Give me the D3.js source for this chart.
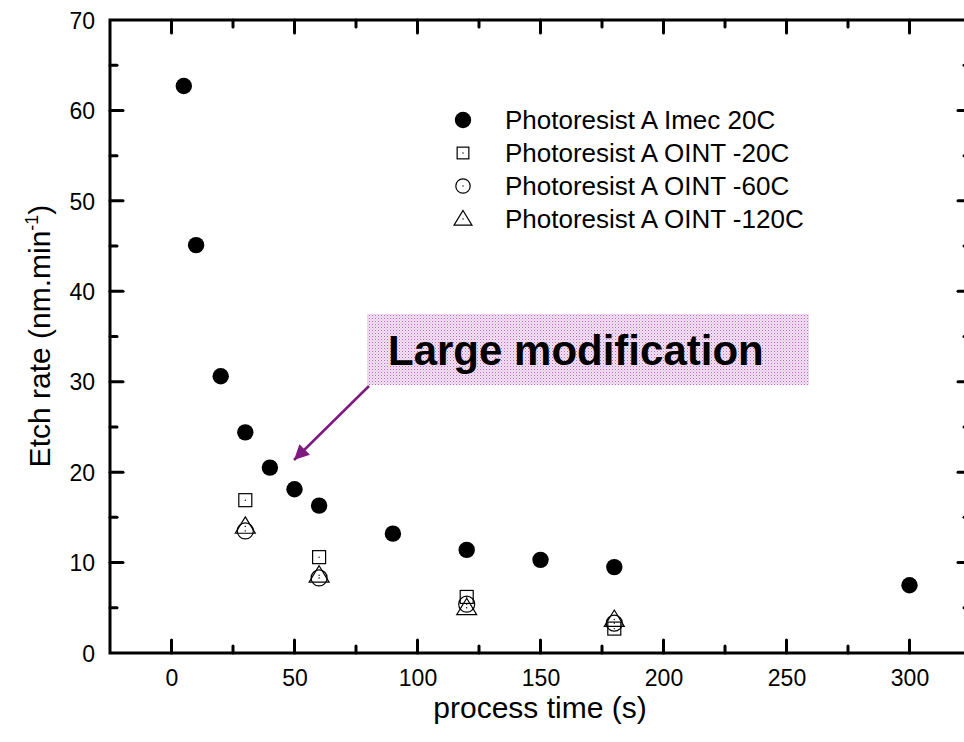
<!DOCTYPE html>
<html><head><meta charset="utf-8">
<script src="https://cdn.jsdelivr.net/npm/d3@7"></script>
<style>body{margin:0;background:#fff;} svg{display:block;font-family:"Liberation Sans",Arial,sans-serif;}</style>
</head><body>
<svg id="c" width="964" height="742"></svg>
<script>
const seriesNames = ["Photoresist A Imec 20C","Photoresist A OINT -20C","Photoresist A OINT -60C","Photoresist A OINT -120C"];
const imecTime = [5,10,20,30,40,50,60,90,120,150,180,300];
const imecRate = [62.7,45.1,30.6,24.4,20.5,18.1,16.3,13.2,11.4,10.3,9.5,7.5];
const ointTime = [30,60,120,180];
const oint20Rate = [16.9,10.6,6.2,2.7];
const oint60Rate = [13.5,8.3,5.4,3.3];
const oint120Rate = [14.0,8.6,5.0,3.7];
const xTicks = [0,50,100,150,200,250,300];
const yTicks = [0,10,20,30,40,50,60,70];
const annotation = "Large modification";

const svg = d3.select("#c");
const x = d3.scaleLinear().domain([-25,325]).range([110,971]);
const y = d3.scaleLinear().domain([0,70]).range([653,20]);

const defs = svg.append("defs");
const pat = defs.append("pattern").attr("id","dots").attr("width",3).attr("height",3).attr("patternUnits","userSpaceOnUse");
pat.append("rect").attr("width",3).attr("height",3).attr("fill","#f3e2f3");
pat.append("rect").attr("width",1).attr("height",1).attr("fill","#b868bc");
pat.append("rect").attr("x",1.5).attr("y",1.5).attr("width",1).attr("height",1).attr("fill","#d6a2d8");
defs.append("marker").attr("id","ah").attr("viewBox","0 0 10 10").attr("refX",10).attr("refY",5)
  .attr("markerWidth",7).attr("markerHeight",6).attr("markerUnits","strokeWidth").attr("orient","auto")
  .append("path").attr("d","M0,0 L10,5 L0,10 z").attr("fill","#7d1a80");

svg.append("rect").attr("x",367).attr("y",314).attr("width",442).attr("height",71).attr("fill","url(#dots)");
svg.append("text").attr("x",388).attr("y",365).attr("font-size",42).attr("font-weight","bold").attr("fill","#000").text(annotation);
svg.append("line").attr("x1",369).attr("y1",386).attr("x2",294).attr("y2",460)
  .attr("stroke","#7d1a80").attr("stroke-width",2.5).attr("marker-end","url(#ah)");

const axW = 3;
const gB = svg.append("g").attr("transform","translate(0,653)")
  .call(d3.axisBottom(x).tickValues(xTicks).tickSize(0).tickFormat(d3.format("d")));
const gL = svg.append("g").attr("transform","translate(110,0)")
  .call(d3.axisLeft(y).tickValues(yTicks).tickSize(0).tickPadding(15).tickFormat(d3.format("d")));
[gB,gL].forEach(g=>{g.select(".domain").remove(); g.selectAll("text").attr("font-size",23).attr("font-family","Liberation Sans, Arial, sans-serif").attr("fill","#000");});
gB.selectAll("text").attr("y",33).attr("dy","0");
gL.selectAll("text").attr("dy","0.36em");

const tickG = svg.append("g").attr("stroke","#000").attr("stroke-linecap","round");
const xMinor = d3.range(-25,326,25).filter(v=>v>-25 && v<325);
const yMinor = d3.range(5,70,5);
xMinor.forEach(v=>{
  const L = v%50===0?13:7;
  tickG.append("line").attr("x1",x(v)).attr("x2",x(v)).attr("y1",653).attr("y2",653-L).attr("stroke-width",axW);
  tickG.append("line").attr("x1",x(v)).attr("x2",x(v)).attr("y1",20).attr("y2",20+L).attr("stroke-width",axW);
});
yMinor.forEach(v=>{
  const L = v%10===0?13:7;
  tickG.append("line").attr("y1",y(v)).attr("y2",y(v)).attr("x1",110).attr("x2",110+L).attr("stroke-width",axW);
  tickG.append("line").attr("y1",y(v)).attr("y2",y(v)).attr("x1",971).attr("x2",971-L).attr("stroke-width",axW);
});
svg.append("rect").attr("x",110).attr("y",20).attr("width",861).attr("height",633)
  .attr("fill","none").attr("stroke","#000").attr("stroke-width",axW);

svg.append("text").attr("x",540).attr("y",718).attr("text-anchor","middle").attr("font-size",30).text("process time (s)");
const yt = svg.append("text").attr("transform","translate(50,336) rotate(-90)").attr("text-anchor","middle").attr("font-size",30);
yt.append("tspan").text("Etch rate (nm.min");
yt.append("tspan").attr("font-size",18).attr("dy",-12).text("-1");
yt.append("tspan").attr("dy",12).text(")");

const triPath = r => `M0,${-r} L${r*1.05},${r*0.72} L${-r*1.05},${r*0.72} Z`;
function openMarker(g, type, cx, cy, s){
  s = s||1;
  const m = g.append("g").attr("transform",`translate(${cx},${cy})`);
  if(type==="square") m.append("rect").attr("x",-6.5*s).attr("y",-6.5*s).attr("width",13*s).attr("height",13*s);
  else if(type==="circle") m.append("circle").attr("r",8*s);
  else m.append("path").attr("d",triPath(9.5*s));
  m.selectAll("*").attr("fill","none").attr("stroke","#000").attr("stroke-width",1.2);
  m.append("circle").attr("r",0.7).attr("fill","#000");
}
const gd = svg.append("g");
ointTime.forEach((t,i)=>openMarker(gd,"square",x(t),y(oint20Rate[i])));
ointTime.forEach((t,i)=>openMarker(gd,"circle",x(t),y(oint60Rate[i])));
ointTime.forEach((t,i)=>openMarker(gd,"triangle",x(t),y(oint120Rate[i])));
gd.selectAll(".imec").data(imecTime).join("circle").attr("class","imec")
  .attr("cx",d=>x(d)).attr("cy",(d,i)=>y(imecRate[i])).attr("r",8.2).attr("fill","#000");

const legY = [120,153,186,219];
const lg = svg.append("g");
lg.append("circle").attr("cx",463).attr("cy",legY[0]).attr("r",8.2).attr("fill","#000");
openMarker(lg,"square",463,legY[1],0.9);
openMarker(lg,"circle",463,legY[2],0.9);
openMarker(lg,"triangle",463,legY[3],0.9);
seriesNames.forEach((s,i)=>lg.append("text").attr("x",505).attr("y",legY[i]).attr("dy","0.36em").attr("font-size",26).text(s));
</script>
</body></html>
